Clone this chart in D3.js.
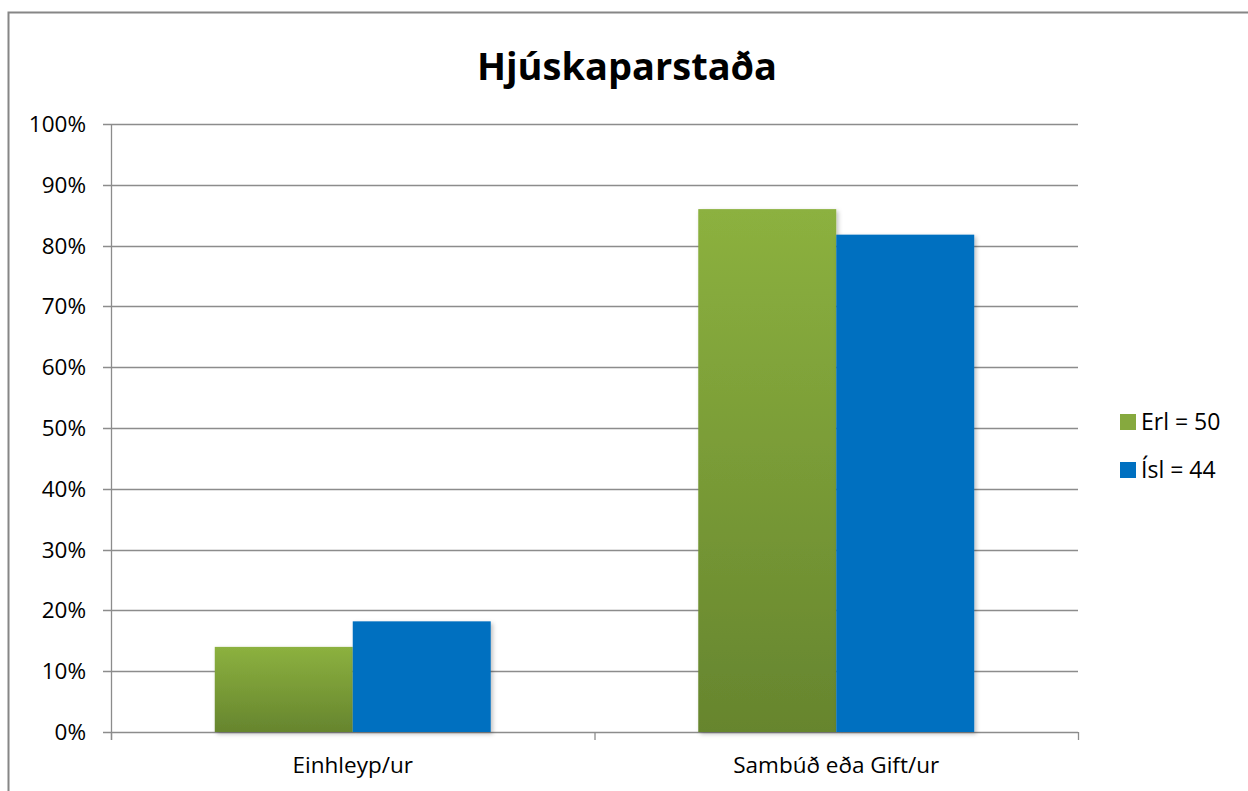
<!DOCTYPE html>
<html><head><meta charset="utf-8">
<script src="https://cdn.jsdelivr.net/npm/d3@7"></script>
<style>body{margin:0;background:#fff}svg{display:block}text{font-family:"Open Sans","Noto Sans",sans-serif}</style>
</head><body><svg id="c" width="1248" height="791"></svg>
<script>
const categories = ["Einhleyp/ur", "Sambúð eða Gift/ur"];
const seriesNames = ["Erl = 50", "Ísl = 44"];
const erl = [0.14, 0.86];
const isl = [0.182, 0.818];
const yTicks = [0,0.1,0.2,0.3,0.4,0.5,0.6,0.7,0.8,0.9,1.0];
const title = "Hjúskaparstaða";

const svg = d3.select("#c");
const defs = svg.append("defs");
const g1 = defs.append("linearGradient").attr("id","gGreen").attr("x1",0).attr("y1",0).attr("x2",0).attr("y2",1);
g1.append("stop").attr("offset","0%").attr("stop-color","#8cb13f");
g1.append("stop").attr("offset","100%").attr("stop-color","#66852e");
const f = defs.append("filter").attr("id","sh").attr("x","-10%").attr("y","-10%").attr("width","130%").attr("height","130%");
f.append("feDropShadow").attr("dx",2).attr("dy",2).attr("stdDeviation",2).attr("flood-color","#000").attr("flood-opacity",0.25);

// outer border
svg.append("rect").attr("x",8.5).attr("y",12.5).attr("width",1260).attr("height",800).attr("fill","none").attr("stroke","#868686").attr("stroke-width",2);

const L=111, R=1078, T=124, B=732;
const x = d3.scaleBand().domain(categories).range([L,R]).paddingInner(0).paddingOuter(0);
const y = d3.scaleLinear().domain([0,1]).range([B,T]);

svg.append("text").attr("x",627).attr("y",80).attr("text-anchor","middle").attr("font-size",38).attr("font-weight",700).text(title);

// grid
svg.append("g").selectAll("line").data(yTicks).join("line")
  .attr("x1",L-8).attr("x2",R).attr("y1",d=>Math.round(y(d))+0.5).attr("y2",d=>Math.round(y(d))+0.5)
  .attr("stroke","#8c8c8c").attr("stroke-width",1.3);
svg.append("g").selectAll("text").data(yTicks).join("text")
  .attr("x",86).attr("y",d=>y(d)+8).attr("text-anchor","end").attr("font-size",22.5).attr("fill","#000")
  .text(d=>d3.format(".0%")(d));
// axes
svg.append("line").attr("x1",L+0.5).attr("x2",L+0.5).attr("y1",T).attr("y2",B+8).attr("stroke","#8c8c8c").attr("stroke-width",1.3);
const xt = [L, L+x.bandwidth(), R];
svg.append("g").selectAll("line").data(xt).join("line")
  .attr("x1",d=>d+0.5).attr("x2",d=>d+0.5).attr("y1",B).attr("y2",B+8).attr("stroke","#8c8c8c").attr("stroke-width",1.3);

const inner = d3.scaleBand().domain([0,1]).range([0,x.bandwidth()]).paddingOuter(0.752).paddingInner(0);
const series = [{vals:erl, fill:"url(#gGreen)"},{vals:isl, fill:"#0070c0"}];
series.forEach((s,si)=>{
  svg.append("g").attr("filter","url(#sh)").selectAll("rect").data(categories).join("rect")
    .attr("x",(c)=>x(c)+inner(si)).attr("width",inner.bandwidth())
    .attr("y",(c,i)=>y(s.vals[i])).attr("height",(c,i)=>B-y(s.vals[i]))
    .attr("fill",s.fill);
});

svg.append("g").selectAll("text").data(categories).join("text")
  .attr("x",c=>x(c)+x.bandwidth()/2).attr("y",773).attr("text-anchor","middle").attr("font-size",22.5).text(c=>c);

// legend
const lg = svg.append("g");
seriesNames.forEach((n,i)=>{
  lg.append("rect").attr("x",1120).attr("y",414+i*48).attr("width",16).attr("height",16).attr("fill",i==0?"#86a93e":"#0070c0");
  lg.append("text").attr("x",1141).attr("y",430+i*48).attr("font-size",23).text(n);
});
</script></body></html>
